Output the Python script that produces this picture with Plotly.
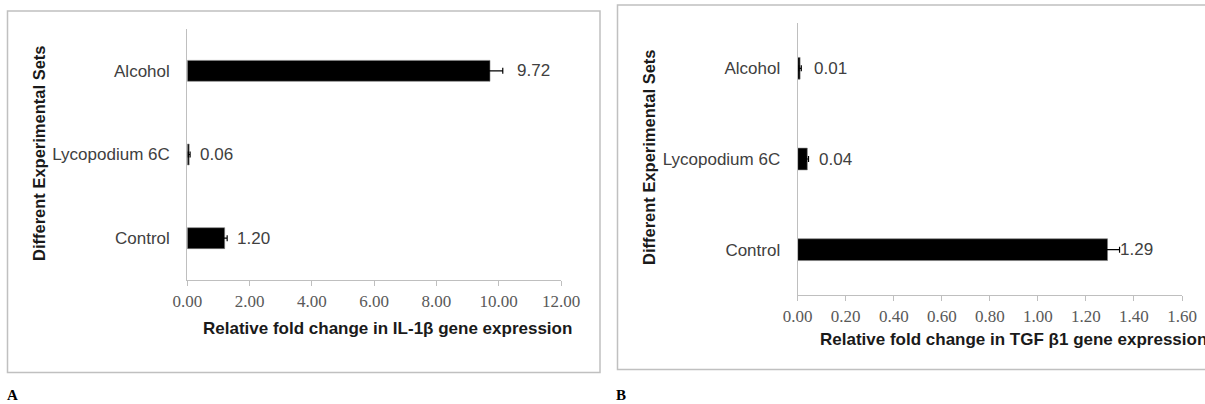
import plotly.graph_objects as go

W, H = 1205, 404

# ---- data ----
categories = ["Control", "Lycopodium 6C", "Alcohol"]
il1b_values = [1.20, 0.06, 9.72]
il1b_errors = [0.08, 0.03, 0.41]
tgfb1_values = [1.29, 0.04, 0.01]
tgfb1_errors = [0.05, 0.005, 0.005]

il1b_ticks = [0, 2, 4, 6, 8, 10, 12]
tgfb1_ticks = [0, 0.2, 0.4, 0.6, 0.8, 1.0, 1.2, 1.4, 1.6]

title_a_x = "Relative fold change in IL-1β gene expression"
title_b_x = "Relative fold change in TGF β1 gene expression"
title_y = "Different Experimental Sets"

# ---- layout helpers (pixel -> paper) ----
def px(x):
    return x / W

def py(y):
    return 1 - y / H

# label pixel offsets (style)
shift_a = [10, 9, 25]
shift_b = [10, 10, 12]

SANS = "Liberation Sans, Arial, sans-serif"
SERIF = "Liberation Serif, Times New Roman, serif"
FS = 17

fig = go.Figure()

fig.add_trace(go.Bar(
    y=categories, x=il1b_values, orientation="h", width=0.25,
    marker=dict(color="#000000", line=dict(color="#808080", width=0.6)),
    error_x=dict(type="data", array=il1b_errors, color="#000000", thickness=1.2, width=3),
    xaxis="x", yaxis="y", showlegend=False, hoverinfo="skip",
))
fig.add_trace(go.Bar(
    y=categories, x=tgfb1_values, orientation="h", width=0.24,
    marker=dict(color="#000000", line=dict(color="#808080", width=0.6)),
    error_x=dict(type="data", array=tgfb1_errors, color="#000000", thickness=1.2, width=3),
    xaxis="x2", yaxis="y2", showlegend=False, hoverinfo="skip",
))

xcommon = dict(
    showline=True, linecolor="#bfbfbf", linewidth=1.2,
    ticks="outside", ticklen=5, tickcolor="#bfbfbf", tickwidth=1.2,
    showgrid=False, zeroline=False, tickformat=".2f", automargin=False,
    tickfont=dict(family=SERIF, size=FS, color="#595959"),
    fixedrange=True,
)
ycommon = dict(
    type="category", showline=True, linecolor="#bfbfbf", linewidth=1.2,
    ticks="", showgrid=False, zeroline=False, range=[-0.5, 2.5], automargin=False,
    tickfont=dict(family=SANS, size=FS, color="#404040"),
    ticklabelstandoff=13, fixedrange=True,
)

fig.update_layout(
    template="none",
    width=W, height=H,
    margin=dict(l=0, r=0, t=0, b=0, pad=0, autoexpand=False),
    paper_bgcolor="white", plot_bgcolor="white",
    bargap=0.75,
    xaxis=dict(domain=[px(187.3), px(561)], range=[0, 12], tickvals=il1b_ticks,
               anchor="y", **xcommon),
    yaxis=dict(domain=[py(280), py(29)], anchor="x", **ycommon),
    xaxis2=dict(domain=[px(797.7), px(1182)], range=[0, 1.6], tickvals=tgfb1_ticks,
                anchor="y2", **xcommon),
    yaxis2=dict(domain=[py(295), py(23)], anchor="x2", **ycommon),
)

annotations = []
for i, (c, v) in enumerate(zip(categories, il1b_values)):
    annotations.append(dict(x=v, y=c, xref="x", yref="y", text=f"{v:.2f}",
                            xanchor="left", yanchor="middle", xshift=shift_a[i], showarrow=False,
                            font=dict(family=SANS, size=FS, color="#404040")))
for i, (c, v) in enumerate(zip(categories, tgfb1_values)):
    annotations.append(dict(x=v, y=c, xref="x2", yref="y2", text=f"{v:.2f}",
                            xanchor="left", yanchor="middle", xshift=shift_b[i], showarrow=False,
                            font=dict(family=SANS, size=FS, color="#404040")))

# axis titles
annotations += [
    dict(x=px(387), y=py(328), xref="paper", yref="paper", text=f"<b>{title_a_x}</b>",
         xanchor="center", yanchor="middle", showarrow=False,
         font=dict(family=SANS, size=FS, color="#1a1a1a")),
    dict(x=px(818), y=py(339), xref="paper", yref="paper", text=f"<b>{title_b_x}</b>",
         xanchor="left", yanchor="middle", showarrow=False,
         font=dict(family=SANS, size=FS, color="#1a1a1a")),
    dict(x=px(39), y=py(154), xref="paper", yref="paper", text=f"<b>{title_y}</b>",
         textangle=-90, xanchor="center", yanchor="middle", showarrow=False,
         font=dict(family=SANS, size=16.5, color="#1a1a1a")),
    dict(x=px(649), y=py(158), xref="paper", yref="paper", text=f"<b>{title_y}</b>",
         textangle=-90, xanchor="center", yanchor="middle", showarrow=False,
         font=dict(family=SANS, size=16.5, color="#1a1a1a")),
    dict(x=px(12), y=py(395), xref="paper", yref="paper", text="<b>A</b>",
         xanchor="center", yanchor="middle", showarrow=False,
         font=dict(family=SERIF, size=15, color="#000000")),
    dict(x=px(621), y=py(395), xref="paper", yref="paper", text="<b>B</b>",
         xanchor="center", yanchor="middle", showarrow=False,
         font=dict(family=SERIF, size=15, color="#000000")),
]
fig.update_layout(annotations=annotations)

fig.update_layout(shapes=[
    dict(type="rect", xref="paper", yref="paper",
         x0=px(7.5), x1=px(600), y0=py(372.5), y1=py(11),
         line=dict(color="#c0c0c0", width=1.5), fillcolor="rgba(0,0,0,0)", layer="below"),
    dict(type="rect", xref="paper", yref="paper",
         x0=px(617.5), x1=px(1215), y0=py(369.5), y1=py(5),
         line=dict(color="#c0c0c0", width=1.5), fillcolor="rgba(0,0,0,0)", layer="below"),
])

fig.write_html("out.html", config={"displayModeBar": False})
